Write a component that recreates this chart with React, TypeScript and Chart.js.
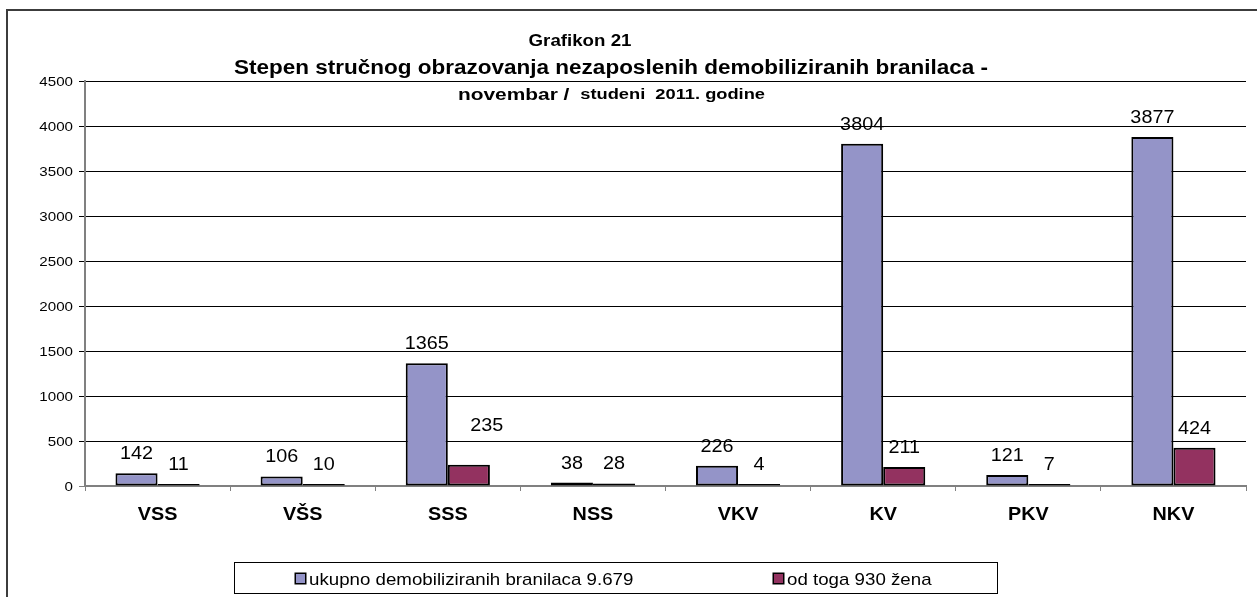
import React, { useEffect, useRef } from "react";
import { Chart, registerables } from "chart.js";

Chart.register(...registerables);

// ---------- data ----------
const categories = ["VSS", "VŠS", "SSS", "NSS", "VKV", "KV", "PKV", "NKV"];
const totalValues = [142, 106, 1365, 38, 226, 3804, 121, 3877];
const womenValues = [11, 10, 235, 28, 4, 211, 7, 424];
const seriesNames = ["ukupno demobiliziranih branilaca 9.679", "od toga 930 žena"];
const seriesColors = ["#9494C8", "#933260"];
const yTickValues = [0, 500, 1000, 1500, 2000, 2500, 3000, 3500, 4000, 4500];
const titleLine1 = "Grafikon 21";
const titleLine2 = "Stepen stručnog obrazovanja nezaposlenih demobiliziranih branilaca -";
const titleLine3a = "novembar / ";
const titleLine3b = " studeni  2011. godine";

const FONT = "'Liberation Sans', Arial, Helvetica, sans-serif";
const SX = 1.1;

function drawText(
  ctx: CanvasRenderingContext2D,
  s: string,
  x: number,
  yc: number,
  size: number,
  bold: boolean,
  align: CanvasTextAlign,
  sx: number = SX
) {
  ctx.save();
  ctx.font = `${bold ? "bold " : ""}${size}px ${FONT}`;
  ctx.fillStyle = "#000";
  ctx.textAlign = align;
  ctx.textBaseline = "alphabetic";
  ctx.translate(x, yc + size * 0.358);
  ctx.scale(sx, 1);
  ctx.fillText(s, 0, 0);
  ctx.restore();
}

function textWidth(ctx: CanvasRenderingContext2D, s: string, size: number, bold: boolean) {
  ctx.save();
  ctx.font = `${bold ? "bold " : ""}${size}px ${FONT}`;
  const w = ctx.measureText(s).width;
  ctx.restore();
  return w;
}

const decorPlugin = {
  id: "decor",
  beforeDraw(chart: any) {
    const ctx = chart.ctx as CanvasRenderingContext2D;
    ctx.save();
    ctx.fillStyle = "#fff";
    ctx.fillRect(0, 0, chart.width, chart.height);
    ctx.strokeStyle = "#3c3c3c";
    ctx.lineWidth = 2;
    ctx.beginPath();
    ctx.moveTo(7, chart.height + 5);
    ctx.lineTo(7, 10);
    ctx.lineTo(chart.width + 5, 10);
    ctx.stroke();
    ctx.restore();
  },
  afterDatasetsDraw(chart: any, _args: any, opts: any) {
    const ctx = chart.ctx as CanvasRenderingContext2D;
    const special = (opts && opts.labelShift) || [];
    chart.data.datasets.forEach((ds: any, di: number) => {
      const meta = chart.getDatasetMeta(di);
      meta.data.forEach((el: any, i: number) => {
        let dx = 0;
        let dy = 0;
        special.forEach((s: any) => {
          if (s.ds === di && s.i === i) {
            dx = s.dx;
            dy = s.dy;
          }
        });
        const top = Math.min(el.y, el.base);
        drawText(ctx, String(ds.data[i]), el.x + dx, top - 20.5 + dy, 18, false, "center");
      });
    });
  },
  afterDraw(chart: any) {
    const ctx = chart.ctx as CanvasRenderingContext2D;
    const ys = chart.scales.y;
    const xs = chart.scales.x;
    // y tick labels
    ys.ticks.forEach((t: any) => {
      const y = ys.getPixelForValue(t.value);
      drawText(ctx, String(t.value), 73, y, 13.5, false, "right", 1.12);
    });
    // category labels
    categories.forEach((c, i) => {
      drawText(ctx, c, xs.getPixelForValue(i), 514, 18, true, "center");
    });
    // titles
    drawText(ctx, titleLine1, 580, 40, 17, true, "center");
    const w2 = textWidth(ctx, titleLine2, 20, true);
    drawText(ctx, titleLine2, 234, 67, 20, true, "left", (988 - 234) / w2);
    const wa = textWidth(ctx, titleLine3a, 16, true);
    const wb = textWidth(ctx, titleLine3b, 14, true);
    const start3 = 458;
    const end3 = 765;
    const sx3 = (end3 - start3) / (wa + wb);
    drawText(ctx, titleLine3a, start3, 94, 16, true, "left", sx3);
    drawText(ctx, titleLine3b, start3 + wa * sx3, 94, 14, true, "left", sx3);
    // legend
    ctx.save();
    ctx.strokeStyle = "#000";
    ctx.lineWidth = 1;
    ctx.strokeRect(234.5, 562.5, 763, 31);
    const items = [
      { sq: 295, tx: 309 },
      { sq: 773, tx: 787 },
    ];
    items.forEach((it, k) => {
      ctx.fillStyle = seriesColors[k];
      ctx.fillRect(it.sq, 573, 11, 11);
      ctx.strokeStyle = "#000";
      ctx.lineWidth = 1.5;
      ctx.strokeRect(it.sq + 0.25, 573.25, 10.5, 10.5);
      drawText(ctx, seriesNames[k], it.tx, 578.5, 17, false, "left");
    });
    ctx.restore();
  },
};

export default function App() {
  const ref = useRef<HTMLCanvasElement | null>(null);
  useEffect(() => {
    if (!ref.current) return;
    const chart = new Chart(ref.current, {
      type: "bar",
      data: {
        labels: categories,
        datasets: [
          {
            label: seriesNames[0],
            data: totalValues,
            backgroundColor: seriesColors[0],
            borderColor: "#000",
            borderWidth: 2,
            borderSkipped: false,
            minBarLength: 2,
            categoryPercentage: 0.58,
            barPercentage: 1,
          },
          {
            label: seriesNames[1],
            data: womenValues,
            backgroundColor: seriesColors[1],
            borderColor: "#000",
            borderWidth: 2,
            borderSkipped: false,
            minBarLength: 2,
            categoryPercentage: 0.58,
            barPercentage: 1,
          },
        ],
      },
      options: {
        responsive: false,
        animation: false,
        devicePixelRatio: 1,
        layout: { padding: { left: 0, top: 81, right: 11, bottom: 0 } },
        plugins: {
          legend: { display: false },
          title: { display: false },
          tooltip: { enabled: false },
          decor: { labelShift: [{ ds: 1, i: 2, dx: 18, dy: -20 }] },
        } as any,
        scales: {
          x: {
            offset: true,
            grid: {
              offset: true,
              drawOnChartArea: false,
              drawTicks: true,
              tickLength: 5,
              color: "#808080",
              lineWidth: 1,
            },
            border: { display: true, color: "#808080", width: 2 },
            ticks: { display: false },
            afterFit: (s: any) => {
              s.height = 111;
            },
          },
          y: {
            min: yTickValues[0],
            max: yTickValues[yTickValues.length - 1],
            afterBuildTicks: (s: any) => {
              s.ticks = yTickValues.map((v) => ({ value: v }));
            },
            ticks: { display: false },
            grid: {
              color: (c: any) => (c.tick && c.tick.value === 0 ? "rgba(0,0,0,0)" : "#000"),
              tickColor: (c: any) => (c.tick && c.tick.value === 0 ? "#808080" : "#000"),
              tickLength: 6,
              lineWidth: 1,
              drawTicks: true,
            },
            border: { display: true, color: "#808080", width: 2 },
            afterFit: (s: any) => {
              s.width = 85;
            },
          },
        },
      } as any,
      plugins: [decorPlugin],
    });
    return () => chart.destroy();
  }, []);
  return (
    <div style={{ position: "fixed", left: 0, top: 0, width: 1257, height: 597, background: "#fff" }}>
      <canvas ref={ref} width={1257} height={597} style={{ display: "block" }} />
    </div>
  );
}
